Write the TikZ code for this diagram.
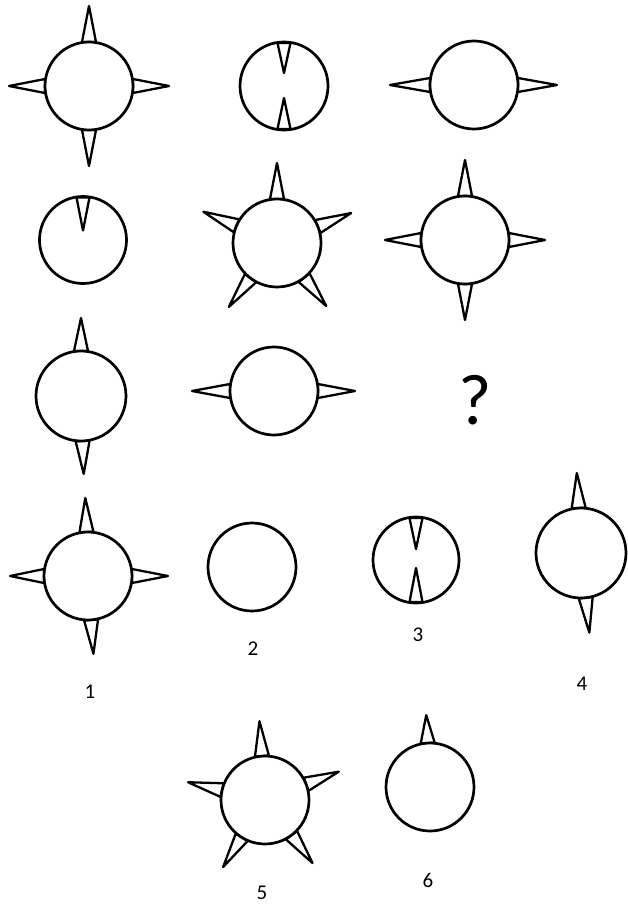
\documentclass[tikz,border=0pt]{standalone}
\usepackage{fontspec}
\setmainfont{Carlito}
\usetikzlibrary{calc}
\tikzset{
  ring/.style={draw=black,line width=2.7pt,fill=white},
  spike/.style={draw=black,line width=2.3pt,line join=round,fill=white},
  lbl/.style={font=\fontsize{21}{25}\selectfont,inner sep=0pt},
  qmark/.style={font=\fontsize{72}{80}\selectfont,inner sep=0pt}
}
% outward spike: angle, radius, length
\newcommand\outspk[3]{\draw[spike] ($(#1:#2)+(#1+90:7)$) -- (#1:#2+#3) -- ($(#1:#2)+(#1-90:7)$) -- cycle;}
% inward spike: angle, radius, length
\newcommand\inspk[3]{\draw[spike] ($(#1:#2-1)+(#1+90:6.5)$) -- (#1:#2-#3) -- ($(#1:#2-1)+(#1-90:6.5)$) -- cycle;}
\begin{document}
\begin{tikzpicture}[x=1pt,y=1pt]
\useasboundingbox (0,0) rectangle (627,-904);
% ---------- row 1 ----------
\begin{scope}[shift={(89,-86)}]
  \foreach \a in {90,270,180,0} {\outspk{\a}{44}{36}}
  \node[ring,circle,minimum size=88pt,inner sep=0pt] (f1) at (0,0) {};
\end{scope}
\begin{scope}[shift={(284,-86)}]
  \node[ring,circle,minimum size=88pt,inner sep=0pt] (f2) at (0,0) {};
  \inspk{90}{44}{31}\inspk{270}{44}{32}
\end{scope}
\begin{scope}[shift={(474,-85)}]
  \outspk{180}{44}{40}\outspk{0}{44}{39}
  \node[ring,circle,minimum size=88pt,inner sep=0pt] (f3) at (0,0) {};
\end{scope}
% ---------- row 2 ----------
\begin{scope}[shift={(83,-240)}]
  \node[ring,circle,minimum size=87pt,inner sep=0pt] (f4) at (0,0) {};
  \inspk{90}{43.5}{34}
\end{scope}
\begin{scope}[shift={(277,-243)}]
  \foreach \a in {90,157,22,233,308} {\outspk{\a}{44}{36}}
  \node[ring,circle,minimum size=88pt,inner sep=0pt] (f5) at (0,0) {};
\end{scope}
\begin{scope}[shift={(465,-240)}]
  \foreach \a in {90,270,180,0} {\outspk{\a}{44}{36}}
  \node[ring,circle,minimum size=88pt,inner sep=0pt] (f6) at (0,0) {};
\end{scope}
% ---------- row 3 ----------
\begin{scope}[shift={(81,-396)}]
  \outspk{90}{45}{33}\outspk{272}{45}{33}
  \node[ring,circle,minimum size=90pt,inner sep=0pt] (f7) at (0,0) {};
\end{scope}
\begin{scope}[shift={(274,-391)}]
  \outspk{180}{44}{38}\outspk{0}{44}{37}
  \node[ring,circle,minimum size=88pt,inner sep=0pt] (f8) at (0,0) {};
\end{scope}
\node[qmark] (q) at (475,-400) {?};
% ---------- options ----------
\begin{scope}[shift={(88,-576)}]
  \outspk{92}{44}{34}\outspk{274}{44}{34}\outspk{180}{44}{34}\outspk{0}{44}{36}
  \node[ring,circle,minimum size=88pt,inner sep=0pt] (o1) at (0,0) {};
\end{scope}
\node[lbl] (l1) at (90,-692) {1};
\begin{scope}[shift={(252,-567)}]
  \node[ring,circle,minimum size=88pt,inner sep=0pt] (o2) at (0,0) {};
\end{scope}
\node[lbl] (l2) at (253,-649) {2};
\begin{scope}[shift={(416,-560)}]
  \node[ring,circle,minimum size=86pt,inner sep=0pt] (o3) at (0,0) {};
  \inspk{90}{43}{32}\inspk{270}{43}{35}
\end{scope}
\node[lbl] (l3) at (418,-635) {3};
\begin{scope}[shift={(581,-553)}]
  \outspk{93}{45}{35}\outspk{276}{45}{35}
  \node[ring,circle,minimum size=90pt,inner sep=0pt] (o4) at (0,0) {};
\end{scope}
\node[lbl] (l4) at (582,-684) {4};
\begin{scope}[shift={(265,-800)}]
  \foreach \a in {94,167,21,238,307} {\outspk{\a}{44}{35}}
  \node[ring,circle,minimum size=88pt,inner sep=0pt] (o5) at (0,0) {};
\end{scope}
\node[lbl] (l5) at (262,-893) {5};
\begin{scope}[shift={(430,-787)}]
  \outspk{93}{44}{28}
  \node[ring,circle,minimum size=88pt,inner sep=0pt] (o6) at (0,0) {};
\end{scope}
\node[lbl] (l6) at (428,-880) {6};
\end{tikzpicture}
\end{document}
